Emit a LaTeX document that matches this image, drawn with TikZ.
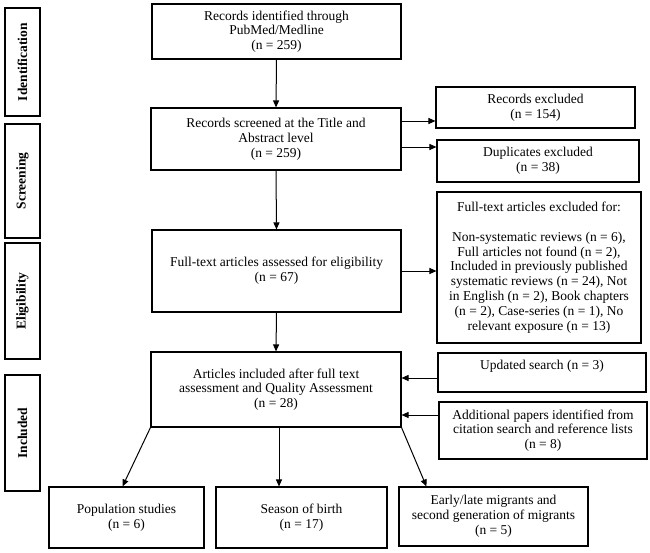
\documentclass[tikz,border=0pt]{standalone}
\usepackage{fontspec}
\setmainfont{Liberation Serif}
\usetikzlibrary{arrows.meta}

\tikzset{every picture/.style={line width=0.75pt}}
\tikzset{
    stagebox/.style={draw, line width=1.3pt, rotate=90, minimum height=35pt, inner sep=0pt, font=\fontsize{13.5}{14.8}\selectfont\bfseries},
    flowbox/.style={draw, line width=1.1pt, align=center, inner sep=0pt},
    flowarrow/.style={line width=1pt, -{Triangle[length=7pt,width=6pt]}}
}

\begin{document}
\begin{tikzpicture}[x=1pt, y=-1pt, font=\fontsize{13.5}{14.8}\selectfont]
    \useasboundingbox (0,0) rectangle (650,552);
    \node[stagebox, minimum width=108pt] (sid) at (22.5,62) {Identification};
    \node[stagebox, minimum width=114pt] (sscr) at (22.5,181) {Screening};
    \node[stagebox, minimum width=116pt] (selig) at (22.5,301) {Eligibility};
    \node[stagebox, minimum width=116pt] (sincl) at (22.5,433) {Included};

    \node[flowbox, minimum width=249pt, minimum height=55pt] (ident) at (276.5,31.5) {Records identified through\\PubMed/Medline\\(n = 259)};
    \node[flowbox, minimum width=250pt, minimum height=62pt] (screen) at (276,139) {Records screened at the Title and\\Abstract level\\(n = 259)};
    \node[flowbox, minimum width=249pt, minimum height=82pt] (elig) at (276.5,271) {Full-text articles assessed for eligibility\\(n = 67)};
    \node[flowbox, minimum width=250pt, minimum height=75pt] (incl) at (276,389.5) {Articles included after full text\\assessment and Quality Assessment\\(n = 28)};

    \node[flowbox, minimum width=199pt, minimum height=41pt] (rexcl) at (535.5,107.5) {Records excluded\\(n = 154)};
    \node[flowbox, minimum width=202pt, minimum height=42pt] (dupl) at (538,161) {Duplicates excluded\\(n = 38)};
    \node[flowbox, minimum width=204pt, minimum height=151pt] (ftexcl) at (539,267.5) {Full-text articles excluded for:\\[14.8pt]Non-systematic reviews (n = 6),\\Full articles not found (n = 2),\\Included in previously published\\systematic reviews (n = 24), Not\\in English (n = 2), Book chapters\\(n = 2), Case-series (n = 1), No\\relevant exposure (n = 13)};
    \node[flowbox, minimum width=208pt, minimum height=39pt] (upd) at (542,372.5) {Updated search (n = 3)\\\mbox{}};
    \node[flowbox, minimum width=208pt, minimum height=57pt] (addp) at (543,430.5) {Additional papers identified from\\citation search and reference lists\\(n = 8)};

    \node[flowbox, minimum width=155pt, minimum height=61pt] (pop) at (126.5,517.5) {Population studies\\(n = 6)};
    \node[flowbox, minimum width=171pt, minimum height=61pt] (season) at (301.5,517.5) {Season of birth\\(n = 17)};
    \node[flowbox, minimum width=189pt, minimum height=59pt] (migr) at (493.5,516.5) {Early/late migrants and\\second generation of migrants\\(n = 5)};

    \draw[flowarrow] (ident.south) -- (screen.north);
    \draw[flowarrow] (screen.south) -- (elig.north);
    \draw[flowarrow] (elig.south) -- (incl.north);
    \draw[flowarrow] ([yshift=18pt]screen.east) -- ([yshift=18pt]screen.east -| rexcl.west);
    \draw[flowarrow] ([yshift=-8pt]screen.east) -- ([yshift=-8pt]screen.east -| dupl.west);
    \draw[flowarrow] (elig.east) -- (elig.east -| ftexcl.west);
    \draw[flowarrow] ([yshift=-5.5pt]upd.west) -- ([yshift=-5.5pt]upd.west -| incl.east);
    \draw[flowarrow] ([yshift=15.5pt]addp.west) -- ([yshift=15.5pt]addp.west -| incl.east);
    \draw[flowarrow] (incl.south west) -- ([xshift=-4pt]pop.north);
    \draw[flowarrow] ([xshift=3pt]incl.south) -- ([xshift=3pt]incl.south |- season.north);
    \draw[flowarrow] (incl.south east) -- ([xshift=28pt]migr.north west);
\end{tikzpicture}
\end{document}
